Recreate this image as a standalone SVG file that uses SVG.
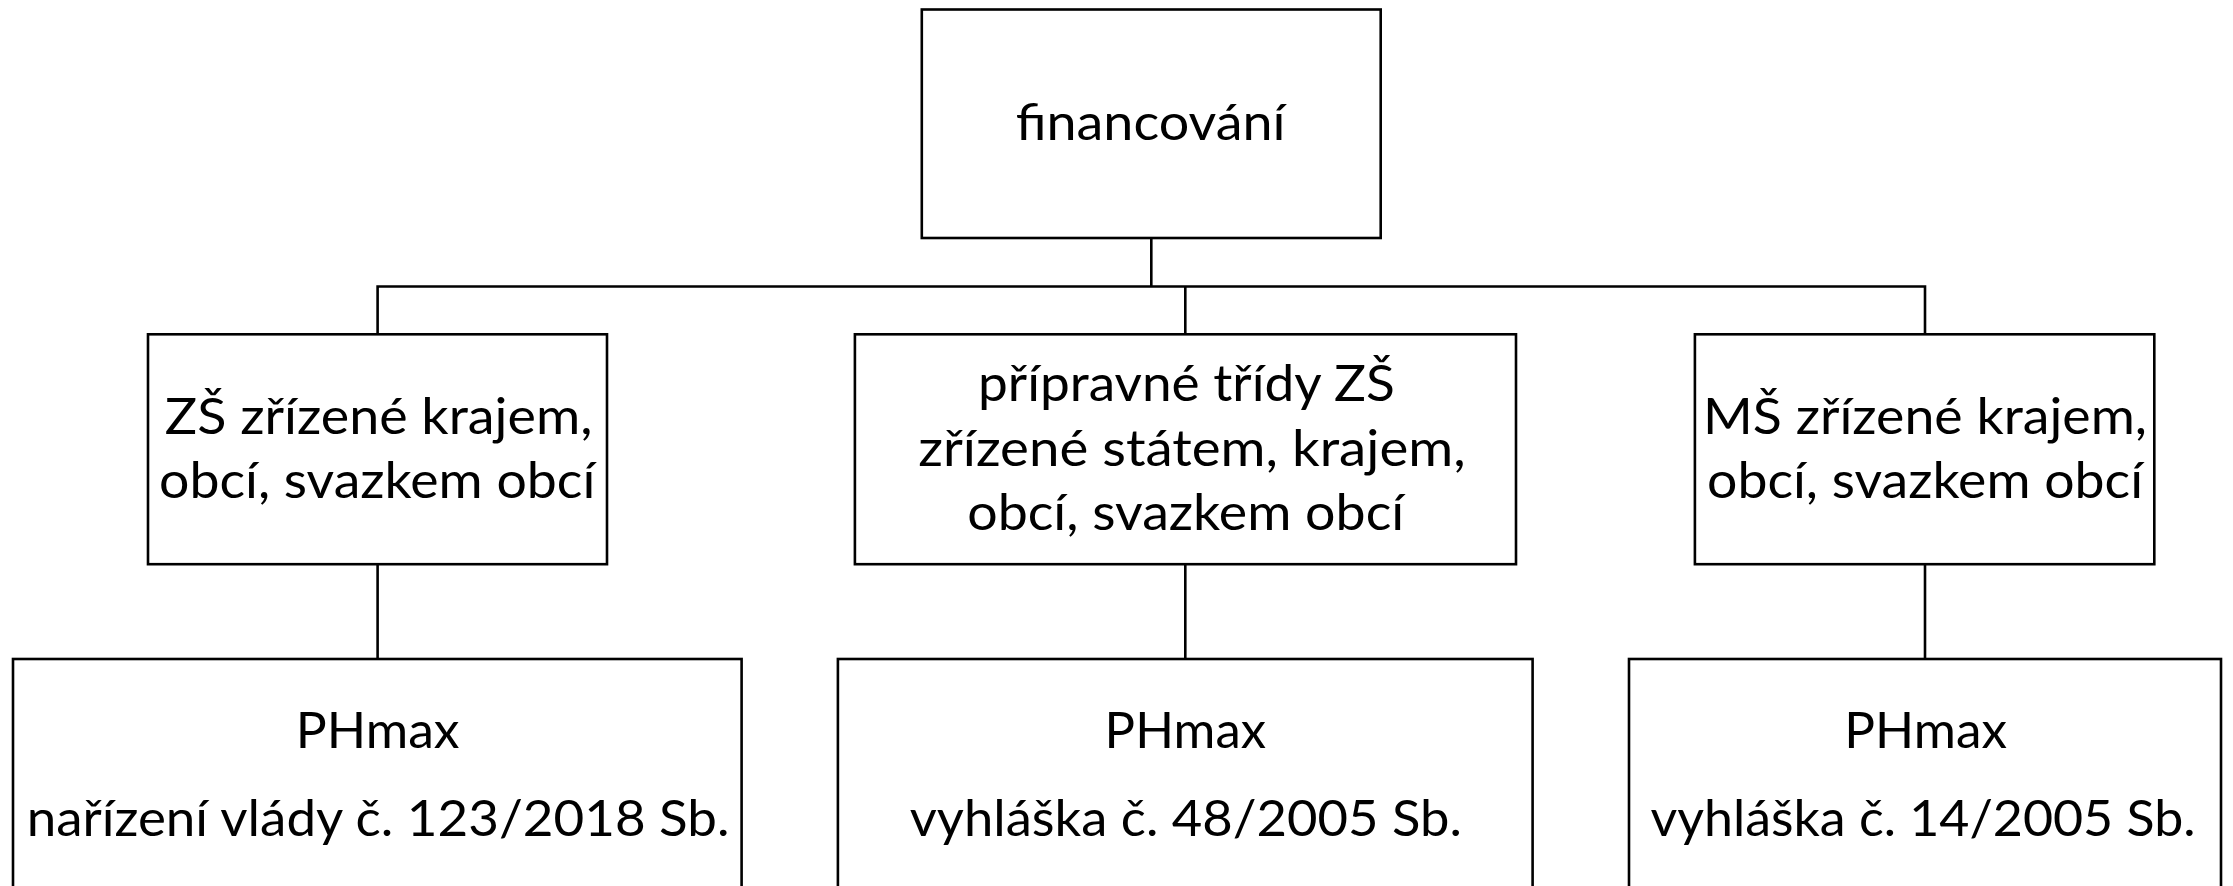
<svg xmlns="http://www.w3.org/2000/svg" width="2233" height="886" viewBox="0 0 2233 886">
<style>
.box{fill:#fff;stroke:#000;stroke-width:2.6}
.ln{fill:none;stroke:#000;stroke-width:2.6}
text{font-family:Lato,"Liberation Sans",sans-serif;font-size:50px;fill:#000}
</style>
<rect x="0" y="0" width="2233" height="886" fill="#fff"/>
<g id="connectors">
<path class="ln" d="M1151.3 238 V286.5"/>
<path class="ln" d="M377.6 334 V286.5 H1925 V334"/>
<path class="ln" d="M1185.3 286.5 V334"/>
<path class="ln" d="M377.6 564 V659"/>
<path class="ln" d="M1185.3 564 V659"/>
<path class="ln" d="M1925 564 V659"/>
</g>
<g id="n-financovani">
<rect class="box" x="921.8" y="9.5" width="458.9" height="228.5"/>
<text x="1015.7" y="140" textLength="269.7" lengthAdjust="spacingAndGlyphs">financování</text>
</g>
<g id="n-zs">
<rect class="box" x="148" y="334.3" width="459" height="229.9"/>
<text x="164.8" y="433.6" textLength="427.6" lengthAdjust="spacingAndGlyphs">ZŠ zřízené krajem,</text>
<text x="159" y="498.3" textLength="436.3" lengthAdjust="spacingAndGlyphs">obcí, svazkem obcí</text>
</g>
<g id="n-pripravne">
<rect class="box" x="854.9" y="334.3" width="661.1" height="229.9"/>
<text x="978" y="400.5" textLength="416.8" lengthAdjust="spacingAndGlyphs">přípravné třídy ZŠ</text>
<text x="918.2" y="465.6" textLength="547.4" lengthAdjust="spacingAndGlyphs">zřízené státem, krajem,</text>
<text x="967.2" y="529.5" textLength="437" lengthAdjust="spacingAndGlyphs">obcí, svazkem obcí</text>
</g>
<g id="n-ms">
<rect class="box" x="1694.9" y="334.3" width="459.4" height="229.9"/>
<text x="1703" y="433.6" textLength="444" lengthAdjust="spacingAndGlyphs">MŠ zřízené krajem,</text>
<text x="1707" y="498.3" textLength="436" lengthAdjust="spacingAndGlyphs">obcí, svazkem obcí</text>
</g>
<g id="n-phmax-1">
<rect class="box" x="13" y="659" width="728.6" height="260"/>
<text x="295.7" y="747.8" textLength="163.8" lengthAdjust="spacingAndGlyphs">PHmax</text>
<text x="26.7" y="835.6" textLength="702.8" lengthAdjust="spacingAndGlyphs">nařízení vlády č. 123/2018 Sb.</text>
</g>
<g id="n-phmax-2">
<rect class="box" x="837.9" y="659" width="694.7" height="260"/>
<text x="1104.6" y="747.8" textLength="161.4" lengthAdjust="spacingAndGlyphs">PHmax</text>
<text x="909.7" y="835.6" textLength="552.1" lengthAdjust="spacingAndGlyphs">vyhláška č. 48/2005 Sb.</text>
</g>
<g id="n-phmax-3">
<rect class="box" x="1629" y="659" width="592" height="260"/>
<text x="1844.2" y="747.8" textLength="162.8" lengthAdjust="spacingAndGlyphs">PHmax</text>
<text x="1650.5" y="835.6" textLength="545" lengthAdjust="spacingAndGlyphs">vyhláška č. 14/2005 Sb.</text>
</g>
</svg>
